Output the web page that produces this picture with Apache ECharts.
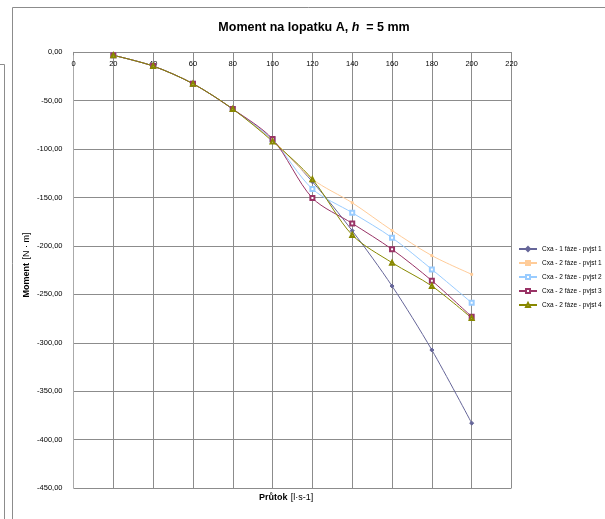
<!DOCTYPE html>
<html>
<head>
<meta charset="utf-8">
<script src="https://cdn.jsdelivr.net/npm/echarts@6/dist/echarts.min.js"></script>
<style>
html,body{margin:0;padding:0;background:#fff;}
#c{width:605px;height:519px;}
</style>
</head>
<body>
<div id="c"></div>
<script>
var xValues = [20, 40, 60, 80, 100, 120, 140, 160, 180, 200];
var seriesNames = ['Cxa - 1 fáze - pvjst 1', 'Cxa - 2 fáze - pvjst 1', 'Cxa - 2 fáze - pvjst 2', 'Cxa - 2 fáze - pvjst 3', 'Cxa - 2 fáze - pvjst 4'];
var s1 = [-3.1, -14.2, -32.4, -58.6, -90.6, -133.7, -184.3, -241.4, -307.5, -383.0];
var s2 = [-3.1, -14.2, -32.4, -58.6, -90.6, -131.0, -155.4, -184.0, -210.0, -229.3];
var s3 = [-3.1, -14.2, -32.4, -58.6, -90.6, -141.2, -165.7, -191.5, -224.2, -258.7];
var s4 = [-3.1, -14.2, -32.4, -58.6, -89.6, -150.5, -176.7, -203.5, -235.9, -273.1];
var s5 = [-3.1, -14.2, -32.4, -58.6, -92.0, -131.2, -188.7, -217.3, -241.4, -274.5];
var xTicks = {min: 0, max: 220, interval: 20};
var yTicks = {min: -450, max: 0, interval: 50};

var colors = ['#666699', '#ffcc99', '#99ccff', '#993366', '#888800'];
var symbols = ['diamond', 'rect', 'emptyRect', 'emptyRect', 'emptyTriangle'];
var allData = [s1, s2, s3, s4, s5];

function pairs(arr) { return xValues.map(function (x, i) { return [x, arr[i]]; }); }

var series = allData.map(function (d, i) {
  return {
    name: seriesNames[i],
    type: 'line',
    data: pairs(d),
    smooth: 0.3,
    symbol: symbols[i],
    symbolSize: i === 1 ? 2 : 4,
    showAllSymbol: true,
    lineStyle: {color: colors[i], width: 1},
    itemStyle: {color: colors[i], borderColor: colors[i], borderWidth: 1},
    emphasis: {disabled: true}
  };
});

var font = 'Liberation Sans, Arial, sans-serif';
var chart = echarts.init(document.getElementById('c'), null, {renderer: 'canvas'});
chart.setOption({
  animation: false,
  backgroundColor: '#fff',
  textStyle: {fontFamily: font},
  title: {
    text: '{b|Moment na lopatku A, }{i|h}{b|  = 5 mm}',
    left: 309, top: 16, textAlign: 'center',
    textStyle: {rich: {
      b: {fontFamily: font, fontWeight: 'bold', fontSize: 12.5, color: '#000'},
      i: {fontFamily: font, fontWeight: 'bold', fontStyle: 'italic', fontSize: 12.5, color: '#000'}
    }}
  },
  legend: {
    orient: 'vertical', left: 513, top: 240,
    itemWidth: 18, itemHeight: 5, itemGap: 6,
    textStyle: {fontSize: 6.5, color: '#000', lineHeight: 8, fontFamily: font},
    data: seriesNames
  },
  grid: {left: 73.5, right: 93.5, top: 52.3, bottom: 31, containLabel: false},
  xAxis: {
    type: 'value', position: 'top',
    min: xTicks.min, max: xTicks.max, interval: xTicks.interval,
    axisLine: {lineStyle: {color: '#8c8c8c', width: 1}},
    axisTick: {show: true, inside: true, length: 3, lineStyle: {color: '#8c8c8c'}},
    axisLabel: {inside: true, margin: 8, fontSize: 7.5, color: '#000', fontFamily: font},
    splitLine: {show: true, lineStyle: {color: '#8c8c8c', width: 1}}
  },
  yAxis: {
    type: 'value',
    min: yTicks.min, max: yTicks.max, interval: yTicks.interval,
    axisLine: {show: true, lineStyle: {color: '#aaaaaa', width: 1}},
    axisTick: {show: false},
    axisLabel: {fontSize: 7.5, color: '#000', margin: 11, fontFamily: font,
      formatter: function (v) { return v.toFixed(2).replace('.', ','); }},
    splitLine: {show: true, lineStyle: {color: '#8c8c8c', width: 1}}
  },
  graphic: [
    {type: 'polyline', shape: {points: [[12.5, 519], [12.5, 7.5], [605, 7.5]]}, style: {stroke: '#8c8c8c', lineWidth: 1, fill: null}, silent: true},
    {type: 'polyline', shape: {points: [[0, 64.5], [4.5, 64.5], [4.5, 519]]}, style: {stroke: '#8c8c8c', lineWidth: 1, fill: null}, silent: true},
    {type: 'text', left: 259, top: 492, silent: true,
      style: {text: '{b|Průtok} {n|[l·s-1]}', rich: {
        b: {fontWeight: 'bold', fontSize: 9, fill: '#000', fontFamily: font},
        n: {fontSize: 9, fill: '#000', fontFamily: font}
      }}},
    {type: 'text', x: 27, y: 265, rotation: Math.PI / 2, silent: true,
      style: {text: '{b|Moment} {n|[N · m]}', align: 'center', verticalAlign: 'middle', rich: {
        b: {fontWeight: 'bold', fontSize: 9, fill: '#000', fontFamily: font},
        n: {fontSize: 9, fill: '#000', fontFamily: font}
      }}}
  ],
  series: series
});
</script>
</body>
</html>
